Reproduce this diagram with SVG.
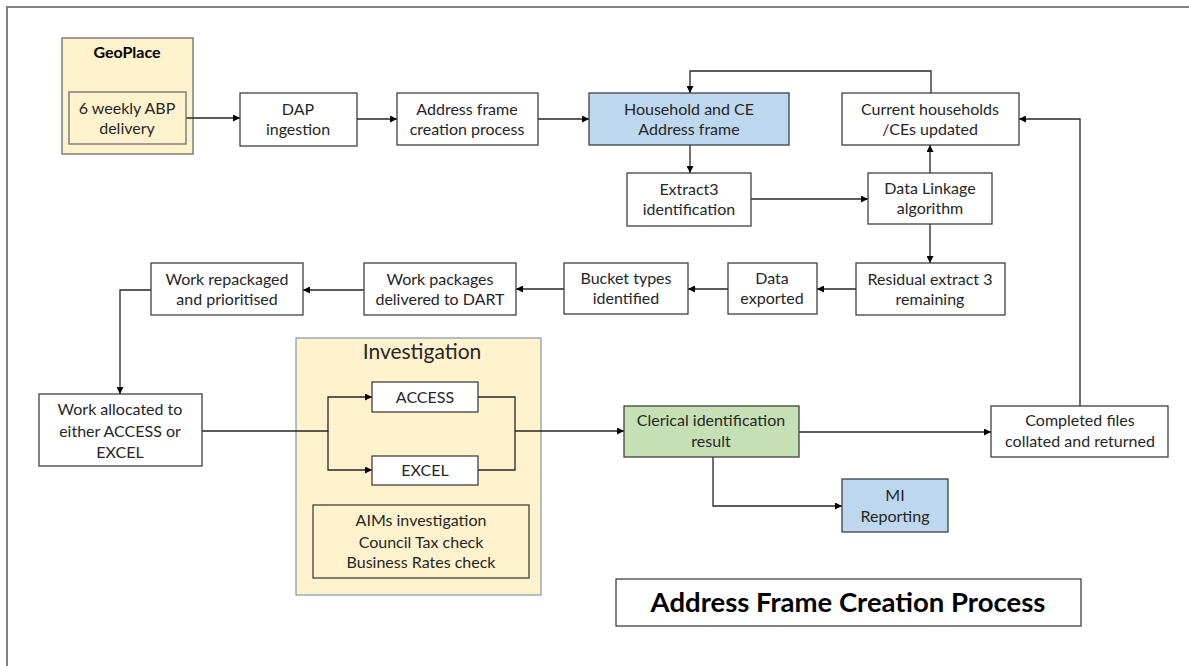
<svg xmlns="http://www.w3.org/2000/svg" width="1189" height="666" viewBox="0 0 1189 666">
<defs>
<style>
.box{fill:#ffffff;stroke:#404040;stroke-width:1.3}
.tan{fill:#FFF2CC;stroke:#7f7f7f;stroke-width:1.5}
.inv{fill:#FFF2CC;stroke:#8497B0;stroke-width:1.2}
.blue{fill:#BDD7EE;stroke:#404040;stroke-width:1.3}
.green{fill:#C5E0B4;stroke:#404040;stroke-width:1.3}
.t{font-family:Lato,"Liberation Sans",sans-serif;font-size:16px;fill:#262626;text-anchor:middle}
.b{font-weight:bold;fill:#000}
.c{fill:none;stroke:#262626;stroke-width:1.3}
</style>
<marker id="ah" viewBox="0 0 10 10" refX="10" refY="5" markerWidth="7" markerHeight="7" markerUnits="userSpaceOnUse" orient="auto">
<path d="M0,0 L10,5 L0,10 z" fill="#000"/>
</marker>
</defs>
<rect width="1189" height="666" fill="#ffffff"/>
<path d="M7,666 V7 H1189" fill="none" stroke="#808080" stroke-width="2"/>

<g id="geoplace">
<rect class="tan" x="62" y="38" width="131" height="116"/>
<text class="t b" x="127" y="58">GeoPlace</text>
</g>
<g id="investigation">
<rect class="inv" x="296" y="338" width="245" height="257"/>
<text class="t" x="422" y="359" style="font-size:21px">Investigation</text>
</g>

<g id="connectors">
<path class="c" d="M186,118 H240" marker-end="url(#ah)"/>
<path class="c" d="M357,119 H397" marker-end="url(#ah)"/>
<path class="c" d="M538,119 H589" marker-end="url(#ah)"/>
<path class="c" d="M690,145 V173" marker-end="url(#ah)"/>
<path class="c" d="M751,199 H868" marker-end="url(#ah)"/>
<path class="c" d="M930,173 V145" marker-end="url(#ah)"/>
<path class="c" d="M931,93 V71 H690 V93" marker-end="url(#ah)"/>
<path class="c" d="M930,224 V263" marker-end="url(#ah)"/>
<path class="c" d="M856,289 H817" marker-end="url(#ah)"/>
<path class="c" d="M728,289 H688" marker-end="url(#ah)"/>
<path class="c" d="M564,289 H516" marker-end="url(#ah)"/>
<path class="c" d="M364,290 H303" marker-end="url(#ah)"/>
<path class="c" d="M151,290 H120 V394" marker-end="url(#ah)"/>
<path class="c" d="M202,431 H328 V397 H372" marker-end="url(#ah)"/>
<path class="c" d="M328,431 V470 H372" marker-end="url(#ah)"/>
<path class="c" d="M478,397 H515 V470 H478"/>
<path class="c" d="M515,431 H624" marker-end="url(#ah)"/>
<path class="c" d="M799,432 H991" marker-end="url(#ah)"/>
<path class="c" d="M713,457 V506 H842" marker-end="url(#ah)"/>
<path class="c" d="M1080,406 V119 H1019" marker-end="url(#ah)"/>
</g>

<g id="abp-delivery">
<rect class="tan" x="69" y="92" width="117" height="52" stroke="#404040"/>
<text class="t" x="127" y="114">6 weekly ABP</text>
<text class="t" x="127" y="134">delivery</text>
</g>
<g id="dap-ingestion">
<rect class="box" x="240" y="93" width="117" height="53"/>
<text class="t" x="298" y="115">DAP</text>
<text class="t" x="298" y="135">ingestion</text>
</g>
<g id="address-frame-creation">
<rect class="box" x="397" y="93" width="141" height="52"/>
<text class="t" x="467" y="115">Address frame</text>
<text class="t" x="467" y="135">creation process</text>
</g>
<g id="household-ce-frame">
<rect class="blue" x="589" y="93" width="200" height="52"/>
<text class="t" x="689" y="115">Household and CE</text>
<text class="t" x="689" y="135">Address frame</text>
</g>
<g id="current-households">
<rect class="box" x="842" y="93" width="177" height="52"/>
<text class="t" x="930" y="115">Current households</text>
<text class="t" x="930" y="135">/CEs updated</text>
</g>
<g id="extract3">
<rect class="box" x="627" y="173" width="124" height="53"/>
<text class="t" x="689" y="195">Extract3</text>
<text class="t" x="689" y="215">identification</text>
</g>
<g id="data-linkage">
<rect class="box" x="868" y="173" width="124" height="51"/>
<text class="t" x="930" y="194">Data Linkage</text>
<text class="t" x="930" y="214">algorithm</text>
</g>
<g id="residual-extract3">
<rect class="box" x="856" y="263" width="149" height="52"/>
<text class="t" x="930" y="285">Residual extract 3</text>
<text class="t" x="930" y="305">remaining</text>
</g>
<g id="data-exported">
<rect class="box" x="728" y="263" width="89" height="51"/>
<text class="t" x="772" y="284">Data</text>
<text class="t" x="772" y="304">exported</text>
</g>
<g id="bucket-types">
<rect class="box" x="564" y="263" width="124" height="51"/>
<text class="t" x="626" y="284">Bucket types</text>
<text class="t" x="626" y="304">identified</text>
</g>
<g id="work-packages">
<rect class="box" x="364" y="263" width="152" height="52"/>
<text class="t" x="440" y="285">Work packages</text>
<text class="t" x="440" y="305">delivered to DART</text>
</g>
<g id="work-repackaged">
<rect class="box" x="151" y="263" width="152" height="52"/>
<text class="t" x="227" y="285">Work repackaged</text>
<text class="t" x="227" y="305">and prioritised</text>
</g>
<g id="work-allocated">
<rect class="box" x="39" y="394" width="163" height="72"/>
<text class="t" x="120" y="415">Work allocated to</text>
<text class="t" x="120" y="437">either ACCESS or</text>
<text class="t" x="120" y="458">EXCEL</text>
</g>
<g id="access">
<rect class="box" x="372" y="382" width="106" height="30"/>
<text class="t" x="425" y="403">ACCESS</text>
</g>
<g id="excel">
<rect class="box" x="372" y="456" width="106" height="29"/>
<text class="t" x="425" y="476">EXCEL</text>
</g>
<g id="checks">
<rect class="box" x="313" y="505" width="216" height="73" style="fill:none"/>
<text class="t" x="421" y="526">AIMs investigation</text>
<text class="t" x="421" y="548">Council Tax check</text>
<text class="t" x="421" y="568">Business Rates check</text>
</g>
<g id="clerical-result">
<rect class="green" x="624" y="406" width="175" height="51"/>
<text class="t" x="711" y="426">Clerical identification</text>
<text class="t" x="711" y="447">result</text>
</g>
<g id="completed-files">
<rect class="box" x="991" y="406" width="177" height="51"/>
<text class="t" x="1080" y="426">Completed files</text>
<text class="t" x="1080" y="447">collated and returned</text>
</g>
<g id="mi-reporting">
<rect class="blue" x="842" y="479" width="106" height="53"/>
<text class="t" x="895" y="501">MI</text>
<text class="t" x="895" y="522">Reporting</text>
</g>
<g id="title">
<rect class="box" x="616" y="579" width="465" height="47"/>
<text class="t b" x="848" y="612" style="font-size:27.5px">Address Frame Creation Process</text>
</g>
</svg>
